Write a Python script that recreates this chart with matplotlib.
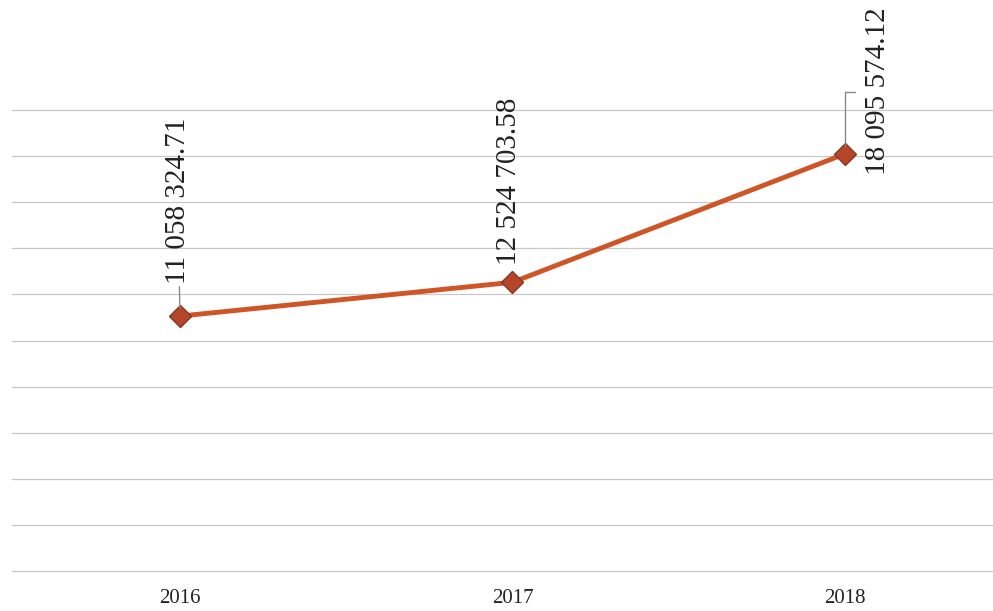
import matplotlib.pyplot as plt

years = ['2016', '2017', '2018']
values = [11058324.71, 12524703.58, 18095574.12]
labels = ['11 058 324.71', '12 524 703.58', '18 095 574.12']

plt.rcParams['font.family'] = ['Liberation Serif', 'DejaVu Serif']

fig = plt.figure(figsize=(9.93, 6.11), dpi=100)
ax = fig.add_axes([12 / 993, 40 / 611, 981 / 993, 461 / 611])

x = list(range(len(years)))
ax.plot(x, values, color='#cf5426', lw=3.5, marker='D', markersize=11,
        markerfacecolor='#b4472a', markeredgecolor='#8a3320', zorder=3)

ax.set_xlim(-0.505, 2.445)
ax.set_ylim(0, 20000000)
ax.set_yticks(range(0, 20000001, 2000000))
ax.set_yticklabels([])
ax.set_xticks(x)
ax.set_xticklabels(years, fontsize=15, color='#222222')
ax.tick_params(axis='both', length=0)
ax.tick_params(axis='x', pad=13)
ax.grid(axis='y', color='#c8c8c8', lw=0.9)
for gl in ax.get_ygridlines():
    gl.set_clip_on(False)
ax.set_axisbelow(True)
for s in ax.spines.values():
    s.set_visible(False)

# data labels
ax.annotate(labels[0], (0, values[0]), xytext=(-2, 32), textcoords='offset pixels',
            rotation=90, ha='center', va='bottom', fontsize=21, color='#222222',
            arrowprops=dict(arrowstyle='-', color='#888888', lw=1, shrinkA=0, shrinkB=6))
ax.annotate(labels[1], (1, values[1]), xytext=(-3, 17), textcoords='offset pixels',
            rotation=90, ha='center', va='bottom', fontsize=21, color='#222222')
ax.annotate(labels[2], (2, values[2]), xytext=(33, 63), textcoords='offset pixels',
            rotation=90, ha='center', va='center', fontsize=21, color='#222222')
ax.annotate('', (2, values[2]), xytext=(10, 62), textcoords='offset pixels',
            arrowprops=dict(arrowstyle='-', color='#888888', lw=1, shrinkA=0, shrinkB=6,
                            connectionstyle='angle,angleA=0,angleB=90,rad=0'))

fig.savefig('out.png', dpi=100)
